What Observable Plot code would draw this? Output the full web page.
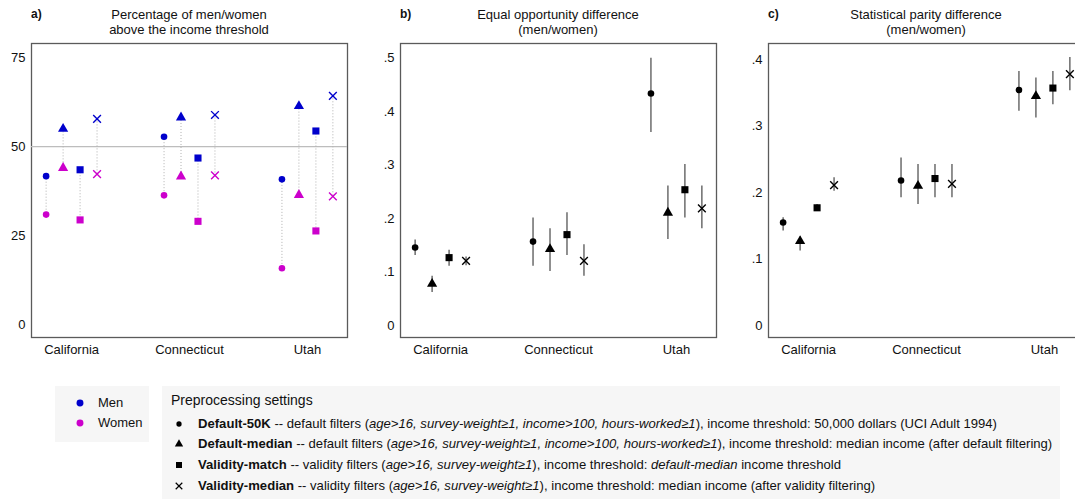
<!DOCTYPE html>
<html>
<head>
<meta charset="utf-8">
<script src="https://cdn.jsdelivr.net/npm/d3@7"></script>
<script src="https://cdn.jsdelivr.net/npm/@observablehq/plot@0.6"></script>
<style>
  body { margin:0; width:1075px; height:499px; overflow:hidden; position:relative; background:#fff;
         font-family:"Liberation Sans", Arial, Helvetica, sans-serif; color:#111; }
  .panel { position:absolute; top:0; width:369px; height:362px; }
  .panel svg { max-width:none !important; }
  .tag { position:absolute; top:7px; font-weight:bold; font-size:12px; }
  .title { position:absolute; top:8px; width:316px; text-align:center; font-size:13px; line-height:14.5px; }
  .box { position:absolute; background:#f6f6f6; }
  .lrow { position:absolute; font-size:13.1px; white-space:nowrap; }
  .lrow svg { position:absolute; }
</style>
</head>
<body>
<div id="root"></div>
<script>
// ---------- data ----------
const states = ["California", "Connecticut", "Utah"];
const settings = ["Default-50K", "Default-median", "Validity-match", "Validity-median"];
const sexes = ["Men", "Women"];

// a) percentage above threshold [state][setting]
const menPct   = [[41.7, 55.0, 43.5, 57.8], [52.8, 58.2, 46.8, 58.9], [40.8, 61.4, 54.4, 64.3]];
const womenPct = [[30.9, 44.0, 29.4, 42.3], [36.3, 41.6, 29.0, 41.9], [15.8, 36.4, 26.3, 36.0]];

// b) equal opportunity difference
const eqOpp   = [[0.146, 0.078, 0.127, 0.121], [0.157, 0.143, 0.170, 0.121], [0.434, 0.211, 0.254, 0.219]];
const eqOppLo = [[0.131, 0.062, 0.111, 0.112], [0.111, 0.101, 0.131, 0.092], [0.361, 0.161, 0.201, 0.181]];
const eqOppHi = [[0.160, 0.092, 0.141, 0.128], [0.201, 0.181, 0.211, 0.151], [0.500, 0.261, 0.301, 0.261]];

// c) statistical parity difference
const spd   = [[0.155, 0.127, 0.177, 0.211], [0.218, 0.210, 0.221, 0.213], [0.354, 0.345, 0.357, 0.378]];
const spdLo = [[0.142, 0.112, 0.172, 0.202], [0.192, 0.182, 0.192, 0.192], [0.322, 0.312, 0.332, 0.353]];
const spdHi = [[0.162, 0.133, 0.182, 0.222], [0.252, 0.242, 0.242, 0.242], [0.382, 0.372, 0.382, 0.403]];

const yTicksA = [0, 25, 50, 75];
const yTicksB = [0, 0.1, 0.2, 0.3, 0.4, 0.5];
const yTicksC = [0, 0.1, 0.2, 0.3, 0.4];

// ---------- helpers ----------
const colors = ["#0000cc", "#cc00cc"];
const symbols = ["circle", "triangle", "square", "times"];
const symR = {"Default-50K": 3.3, "Default-median": 3.8, "Validity-match": 4, "Validity-median": 3.6};
const spacing = 0.144;

function rows(vals, lo, hi) {
  const out = [];
  states.forEach((s, i) => settings.forEach((k, j) => out.push({
    state: s, setting: k, x: i + (j - 1.5) * spacing,
    v: vals[i][j], lo: lo ? lo[i][j] : null, hi: hi ? hi[i][j] : null
  })));
  return out;
}
const decFmt = d => d === 0 ? "0" : d3.format(".1f")(d).replace(/^0/, "");

function base(yDomain, yTicks, yFmt, marks) {
  return Plot.plot({
    width: 369, height: 362,
    marginTop: 43, marginBottom: 25, marginLeft: 31, marginRight: 22,
    style: {fontFamily: '"Liberation Sans", Arial, sans-serif', fontSize: "13px", background: "transparent", color: "#111", overflow: "visible"},
    x: {type: "linear", domain: [-0.34, 2.34], ticks: [0, 1, 2], tickFormat: i => states[i], tickSize: 0, tickPadding: 7, label: null},
    y: {domain: yDomain, ticks: yTicks, tickFormat: yFmt, tickSize: 0, tickPadding: 6, label: null},
    color: {domain: sexes, range: colors},
    symbol: {domain: settings, range: symbols},
    marks: [Plot.frame({stroke: "#5a5a5a", strokeWidth: 1.3}), ...marks]
  });
}

function symbolDots(data, y, fillFn) {
  const ms = [];
  settings.forEach(k => {
    const sub = data.filter(d => d.setting === k);
    if (k === "Validity-median") {
      ms.push(Plot.dot(sub, {x: "x", y, symbol: "setting", stroke: fillFn, strokeWidth: 1.4, r: symR[k]}));
    } else {
      ms.push(Plot.dot(sub, {x: "x", y, symbol: "setting", fill: fillFn, stroke: null, r: symR[k]}));
    }
  });
  return ms;
}

// ---------- panel a ----------
const dW = rows(womenPct);
const dA = rows(menPct).map((d, idx) => ({...d, men: d.v, women: dW[idx].v}));
const plotA = base([-3.66, 79.0], yTicksA, d => String(d), [
  Plot.ruleY([50], {stroke: "#bdbdbd", strokeWidth: 1.2}),
  Plot.ruleX(dA, {x: "x", y1: "men", y2: "women", stroke: "#b0b0b0", strokeWidth: 1, strokeDasharray: "1,2"}),
  ...symbolDots(dA, "men", () => "Men"),
  ...symbolDots(dA, "women", () => "Women")
]);

// ---------- panel b ----------
const dB = rows(eqOpp, eqOppLo, eqOppHi);
const plotB = base([-0.0224, 0.5275], yTicksB, decFmt, [
  Plot.ruleX(dB, {x: "x", y1: "lo", y2: "hi", stroke: "#555", strokeWidth: 1.3}),
  ...symbolDots(dB, "v", "#000")
]);

// ---------- panel c ----------
const dC = rows(spd, spdLo, spdHi);
const plotC = base([-0.018, 0.424], yTicksC, decFmt, [
  Plot.ruleX(dC, {x: "x", y1: "lo", y2: "hi", stroke: "#555", strokeWidth: 1.3}),
  ...symbolDots(dC, "v", "#000")
]);

const root = document.getElementById("root");
const panels = [
  {plot: plotA, left: 0, tag: "a)", title: "Percentage of men/women<br>above the income threshold"},
  {plot: plotB, left: 369, tag: "b)", title: "Equal opportunity difference<br>(men/women)"},
  {plot: plotC, left: 737, tag: "c)", title: "Statistical parity difference<br>(men/women)"}
];
panels.forEach(p => {
  const div = document.createElement("div");
  div.className = "panel";
  div.style.left = p.left + "px";
  div.appendChild(p.plot);
  root.appendChild(div);
  const tag = document.createElement("div");
  tag.className = "tag"; tag.style.left = (p.left + 31) + "px"; tag.textContent = p.tag;
  root.appendChild(tag);
  const t = document.createElement("div");
  t.className = "title"; t.style.left = (p.left + 31) + "px"; t.innerHTML = p.title;
  root.appendChild(t);
});

// ---------- legends ----------
function symSvg(type, size, color, stroke) {
  const path = d3.symbol(type, size)();
  return `<svg width="12" height="12" viewBox="-6 -6 12 12" style="overflow:visible">` +
    (stroke ? `<path d="${path}" fill="none" stroke="${color}" stroke-width="1.2"/>`
            : `<path d="${path}" fill="${color}"/>`) + `</svg>`;
}
const box1 = document.createElement("div");
box1.className = "box";
Object.assign(box1.style, {left: "55px", top: "386px", width: "94px", height: "56px"});
root.appendChild(box1);
sexes.forEach((s, i) => {
  const r = document.createElement("div");
  r.className = "lrow";
  Object.assign(r.style, {left: "74px", top: (395 + i * 20) + "px", height: "16px", lineHeight: "16px", fontSize: "13px"});
  r.innerHTML = `<span style="position:absolute;left:0;top:2px">${symSvg(d3.symbolCircle, 38, colors[i], false)}</span><span style="position:absolute;left:24px">${s}</span>`;
  root.appendChild(r);
});

const box2 = document.createElement("div");
box2.className = "box";
Object.assign(box2.style, {left: "162px", top: "386px", width: "898px", height: "120px"});
root.appendChild(box2);
const head = document.createElement("div");
head.className = "lrow";
Object.assign(head.style, {left: "171px", top: "392px", fontSize: "14px", lineHeight: "17px"});
head.textContent = "Preprocessing settings";
root.appendChild(head);

const descs = [
  "-- default filters (<i>age&gt;16, survey-weight≥1, income&gt;100, hours-worked≥1</i>), income threshold: 50,000 dollars (UCI Adult 1994)",
  "-- default filters (<i>age&gt;16, survey-weight≥1, income&gt;100, hours-worked≥1</i>), income threshold: median income (after default filtering)",
  "-- validity filters (<i>age&gt;16, survey-weight≥1</i>), income threshold: <i>default-median</i> income threshold",
  "-- validity filters (<i>age&gt;16, survey-weight≥1</i>), income threshold: median income (after validity filtering)"
];
const legSyms = [[d3.symbolCircle, 22, false], [d3.symbolTriangle, 30, false], [d3.symbolSquare, 36, false], [d3.symbolTimes, 30, true]];
const rowY = [424, 444, 464.5, 486];
settings.forEach((k, i) => {
  const r = document.createElement("div");
  r.className = "lrow";
  Object.assign(r.style, {left: "173px", top: (rowY[i] - 8) + "px", height: "16px", lineHeight: "16px"});
  const [st, sz, strk] = legSyms[i];
  r.innerHTML = `<span style="position:absolute;left:0;top:2px">${symSvg(st, sz, "#000", strk)}</span>` +
    `<span style="position:absolute;left:25px"><b>${k}</b> ${descs[i]}</span>`;
  root.appendChild(r);
});
</script>
</body>
</html>
